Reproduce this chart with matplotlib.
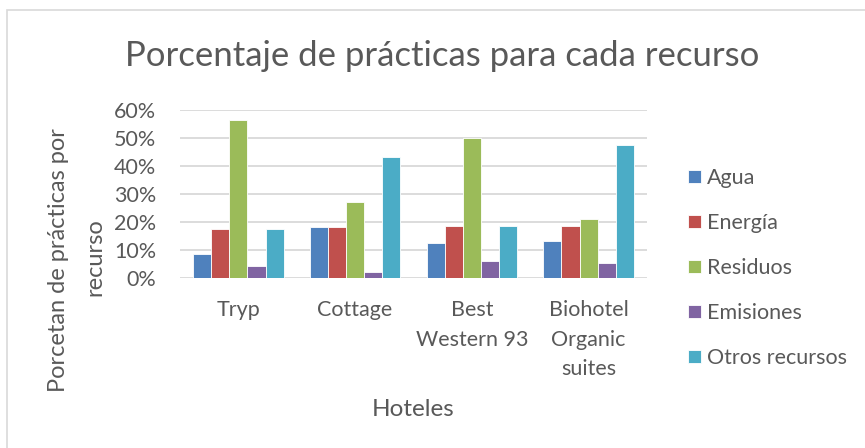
import matplotlib
matplotlib.use("Agg")
import matplotlib.pyplot as plt
import numpy as np
from matplotlib.patches import Rectangle

hoteles = ["Tryp", "Cottage", "Best\nWestern 93", "Biohotel\nOrganic\nsuites"]
recursos = ["Agua", "Energía", "Residuos", "Emisiones", "Otros recursos"]
colores = ["#4F81BD", "#C0504D", "#9BBB59", "#8064A2", "#4BACC6"]

agua = [0.087, 0.182, 0.125, 0.132]
energia = [0.174, 0.182, 0.1875, 0.184]
residuos = [0.565, 0.273, 0.50, 0.211]
emisiones = [0.043, 0.023, 0.0625, 0.053]
otros = [0.174, 0.432, 0.1875, 0.474]
series = [agua, energia, residuos, emisiones, otros]

gris = "#595959"
plt.rcParams["font.family"] = ["Lato", "DejaVu Sans"]

fig = plt.figure(figsize=(8.65, 4.48), dpi=100)
# marco del gráfico
fig.patches.append(Rectangle((7 / 865, -0.1), 1.2, (448 - 10) / 448 + 0.1,
                             transform=fig.transFigure, fill=False,
                             edgecolor="#d9d9d9", linewidth=1.2))

ax = fig.add_axes([180 / 865, 1 - 278 / 448, 467 / 865, 168 / 448])

x = np.arange(len(hoteles))
ancho = 0.155
for i, (vals, nombre, c) in enumerate(zip(series, recursos, colores)):
    ax.bar(x + (i - 2) * ancho, vals, ancho, color=c, label=nombre,
           edgecolor="white", linewidth=0.6, zorder=3)

ax.set_xlim(-0.5, len(hoteles) - 0.5)
ax.set_ylim(0, 0.6)
ax.set_yticks(np.arange(0, 0.61, 0.1))
ax.set_yticklabels([f"{int(round(v * 100))}%" for v in np.arange(0, 0.61, 0.1)])
ax.yaxis.grid(True, color="#d9d9d9", linewidth=1.3, zorder=0)
for s in ax.spines.values():
    s.set_visible(False)
ax.set_xticks(x)
ax.set_xticklabels(hoteles, linespacing=1.6)
ax.tick_params(axis="both", length=0, colors=gris, labelsize=15.5)
ax.tick_params(axis="y", pad=17)
ax.tick_params(axis="x", pad=16)

ax.set_xlabel("Hoteles", fontsize=17.5, color=gris, labelpad=14)
fig.text(59 / 865, 1 - 260 / 448, "Porcetan de prácticas por",
         rotation=90, rotation_mode="anchor", ha="center", va="center",
         fontsize=17, color=gris)
fig.text(95 / 865, 1 - 257 / 448, "recurso",
         rotation=90, rotation_mode="anchor", ha="center", va="center",
         fontsize=17, color=gris)

fig.text(442 / 865, 1 - 56 / 448, "Porcentaje de prácticas para cada recurso",
         ha="center", va="center", fontsize=25, color=gris)

leg = ax.legend(loc="center left", bbox_to_anchor=(677 / 865, 1 - 268 / 448),
                bbox_transform=fig.transFigure, frameon=False, fontsize=15.5,
                labelspacing=1.16, handlelength=0.6, handleheight=0.6,
                handletextpad=0.3, borderpad=0)
for t in leg.get_texts():
    t.set_color(gris)

fig.savefig("out.png", dpi=100)
